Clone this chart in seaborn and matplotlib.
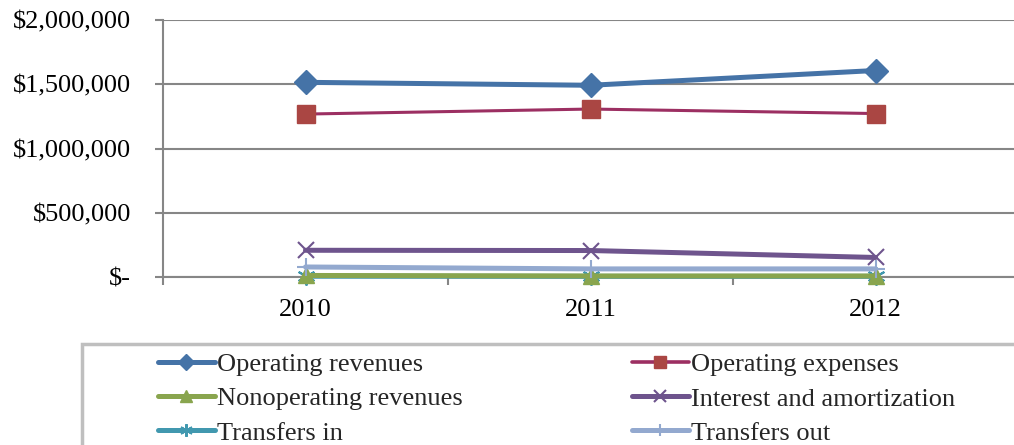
import matplotlib
matplotlib.use("Agg")
import matplotlib.pyplot as plt
import seaborn as sns
import pandas as pd
from matplotlib.patches import Rectangle
from matplotlib.ticker import FuncFormatter, FixedLocator

years = ["2010", "2011", "2012"]
operating_revenues = [1515000, 1492000, 1607000]
operating_expenses = [1268000, 1307000, 1272000]
nonoperating_revenues = [12000, 8000, 8000]
interest_amortization = [208000, 206000, 152000]
transfers_in = [6000, 5000, 5000]
transfers_out = [78000, 63000, 63000]

series_names = ["Operating revenues", "Operating expenses", "Nonoperating revenues",
                "Interest and amortization", "Transfers in", "Transfers out"]
series_values = [operating_revenues, operating_expenses, nonoperating_revenues,
                 interest_amortization, transfers_in, transfers_out]

styles = {
    "Operating revenues": dict(color="#4573A7", marker="D", ms=12, lw=3.6, mfc="#4573A7", mec="#4573A7", mew=1, z=6),
    "Operating expenses": dict(color="#9C2F62", marker="s", ms=13, lw=2.2, mfc="#AA4643", mec="#AA4643", mew=1, z=5),
    "Nonoperating revenues": dict(color="#89A54E", marker="^", ms=12, lw=3.6, mfc="#89A54E", mec="#89A54E", mew=1, z=3),
    "Interest and amortization": dict(color="#6E548D", marker="x", ms=12, lw=3.6, mfc="#6E548D", mec="#6E548D", mew=1.5, z=4),
    "Transfers in": dict(color="#4198AF", marker=(6, 2, 0), ms=13, lw=3.6, mfc="#4198AF", mec="#4198AF", mew=1.5, z=2),
    "Transfers out": dict(color="#93A9CF", marker="+", ms=13, lw=3.6, mfc="#93A9CF", mec="#93A9CF", mew=1.5, z=4.5),
}

sns.set_theme(style="white")
plt.rcParams["font.family"] = ["Liberation Serif", "DejaVu Serif"]

fig = plt.figure(figsize=(10.14, 4.45), dpi=100)
ax = fig.add_axes([163 / 1014, 1 - 277 / 445, (1018 - 163) / 1014, (277 - 20) / 445])

handles = {}
for name, vals in zip(series_names, series_values):
    st = styles[name]
    df = pd.DataFrame({"year": years, "value": vals})
    n_before = len(ax.lines)
    sns.lineplot(data=df, x="year", y="value", ax=ax, color=st["color"], marker=st["marker"],
                 markersize=st["ms"], linewidth=st["lw"], markerfacecolor=st["mfc"],
                 markeredgecolor=st["mec"], markeredgewidth=st["mew"], zorder=st["z"],
                 legend=False, sort=False)
    line = ax.lines[n_before]
    line.set_clip_on(False)
    handles[name] = line

ax.set_xlim(-0.5, 2.5)
ax.set_ylim(0, 2000000)
ax.set_xlabel("")
ax.set_ylabel("")

ax.yaxis.set_major_locator(FixedLocator([0, 500000, 1000000, 1500000, 2000000]))
ax.yaxis.set_major_formatter(FuncFormatter(lambda v, p: "$-" if v == 0 else "${:,.0f}".format(v)))
ax.set_xticks([0, 1, 2])
ax.set_xticklabels(years)
ax.set_xticks([-0.5, 0.5, 1.5, 2.5], minor=True)

gray = "#868686"
ax.grid(axis="y", color=gray, linewidth=1.5, zorder=0)
ax.set_axisbelow(True)
for s in ["top", "right"]:
    ax.spines[s].set_visible(False)
for s in ["left", "bottom"]:
    ax.spines[s].set_color(gray)
    ax.spines[s].set_linewidth(1.5)

ax.tick_params(axis="y", which="major", direction="out", length=6, width=1.5, color=gray,
               pad=17, labelsize=19, left=True)
ax.tick_params(axis="x", which="major", length=0, pad=16, labelsize=19, bottom=True)
ax.tick_params(axis="x", which="minor", direction="out", length=6, width=1.5, color=gray, bottom=True)
for lab in ax.get_yticklabels() + ax.get_xticklabels():
    lab.set_color("black")

# legend frame
fig.patches.append(Rectangle((82 / 1014, -0.1), 1.0, 1 - 344 / 445 + 0.1,
                             transform=fig.transFigure, fill=False,
                             edgecolor="#BFBFBF", linewidth=2.5, zorder=1))

leg_order = ["Operating revenues", "Nonoperating revenues", "Transfers in",
             "Operating expenses", "Interest and amortization", "Transfers out"]
leg = fig.legend([handles[n] for n in leg_order], leg_order, ncol=2, frameon=False,
                 loc="upper left", bbox_to_anchor=(158 / 1014, 1 - 353 / 445),
                 borderpad=0, borderaxespad=0, fontsize=19, handlelength=2.15,
                 handletextpad=0.1, columnspacing=6.4, labelspacing=0.4, markerscale=0.7)
for h in leg.legend_handles:
    h.set_linewidth(max(h.get_linewidth(), 3.6) if h.get_color() != "#9C2F62" else 2.6)

fig.savefig("out.png", dpi=100)
